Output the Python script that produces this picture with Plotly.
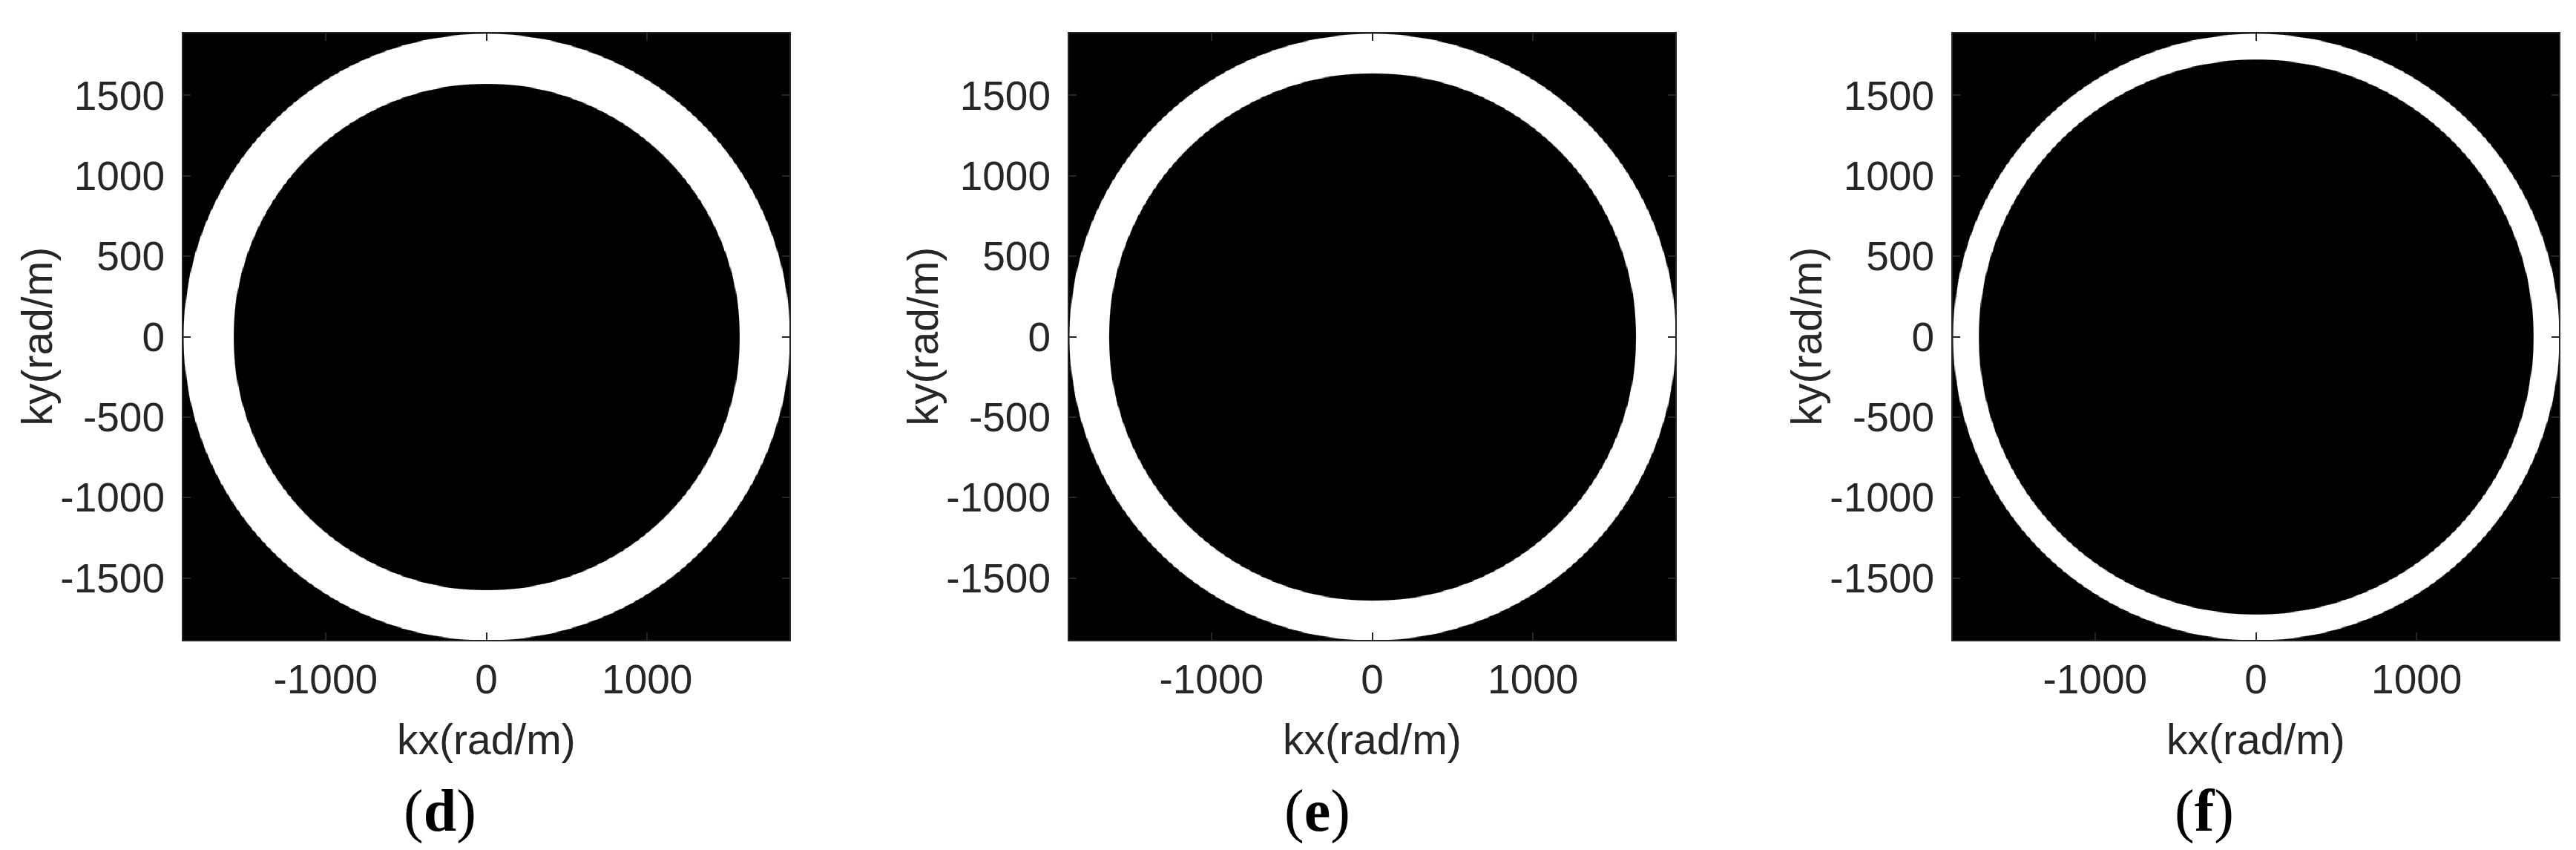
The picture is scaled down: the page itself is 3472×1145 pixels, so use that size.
import numpy as np
import plotly.graph_objects as go

# ---------------- data ----------------
K_MAX = 1885                      # axis half-extent (rad/m)
panel_labels = ["d", "e", "f"]
outer_radius = [1885, 1885, 1885] # outer edge of bright ring (rad/m)
inner_radius = [1575, 1640, 1725] # inner edge of bright ring (rad/m)
x_tick_vals = [-1000, 0, 1000]
x_tick_text = ["-1000", "0", "1000"]
y_tick_vals = [-1500, -1000, -500, 0, 500, 1000, 1500]
y_tick_text = ["-1500", "-1000", "-500", "0", "500", "1000", "1500"]
x_title = "kx(rad/m)"
y_title = "ky(rad/m)"

# ---------------- layout geometry (pixels) ----------------
W, H = 3472, 1145
panel_left = [239, 1433, 2624]
panel_size = 817
panel_top = 37
label_offset = [-63, -74, -70]

N = 701
kx = np.linspace(-K_MAX, K_MAX, N)
ky = np.linspace(-K_MAX, K_MAX, N)
KX, KY = np.meshgrid(kx, ky)
R = np.sqrt(KX ** 2 + KY ** 2)
soft = 6.0

fig = go.Figure()
axis_color = "#262626"
tick_font = dict(family="Liberation Sans, Arial, sans-serif", size=55, color=axis_color)

annotations = []
for i, lab in enumerate(panel_labels):
    ring = np.clip((R - inner_radius[i]) / soft + 0.5, 0, 1) * np.clip((outer_radius[i] - R) / soft + 0.5, 0, 1)
    xa = "x" if i == 0 else f"x{i+1}"
    ya = "y" if i == 0 else f"y{i+1}"
    fig.add_trace(go.Heatmap(
        x=kx, y=ky, z=ring.astype(np.float32),
        colorscale=[[0, "black"], [1, "white"]], zmin=0, zmax=1,
        showscale=False, zsmooth="best", xaxis=xa, yaxis=ya, hoverinfo="skip"))

    x0 = panel_left[i] / W
    x1 = (panel_left[i] + panel_size) / W
    y1 = 1 - panel_top / H
    y0 = 1 - (panel_top + panel_size) / H
    common = dict(showline=True, linecolor=axis_color, linewidth=2, mirror="allticks",
                  ticks="inside", ticklen=10, tickwidth=2, tickcolor=axis_color,
                  showgrid=False, zeroline=False, tickfont=tick_font,
                  range=[-K_MAX, K_MAX], layer="above traces")
    xkey = "xaxis" if i == 0 else f"xaxis{i+1}"
    ykey = "yaxis" if i == 0 else f"yaxis{i+1}"
    fig.layout[xkey] = dict(common, domain=[x0, x1], anchor=ya, tickvals=x_tick_vals,
                            ticktext=x_tick_text, ticklabelstandoff=4)
    fig.layout[ykey] = dict(common, domain=[y0, y1], anchor=xa, tickvals=y_tick_vals,
                            ticktext=y_tick_text, ticklabelstandoff=12)

    cx = (panel_left[i] + panel_size / 2)
    annotations.append(dict(text=x_title, x=cx / W, y=1 - 988 / H, xref="paper", yref="paper",
                            xanchor="center", yanchor="middle", showarrow=False,
                            font=dict(family="Liberation Sans, Arial, sans-serif", size=57, color=axis_color)))
    annotations.append(dict(text=y_title, x=(panel_left[i] - 197) / W, y=1 - (panel_top + panel_size / 2) / H,
                            xref="paper", yref="paper", textangle=-90,
                            xanchor="center", yanchor="middle", showarrow=False,
                            font=dict(family="Liberation Sans, Arial, sans-serif", size=57, color=axis_color)))
    annotations.append(dict(text=f"(<b>{lab}</b>)", x=(cx + label_offset[i]) / W, y=1 - 1084 / H,
                            xref="paper", yref="paper", xanchor="center", yanchor="middle",
                            showarrow=False,
                            font=dict(family="Liberation Serif, Times New Roman, serif", size=80, color="black")))

fig.update_layout(width=W, height=H, margin=dict(l=0, r=0, t=0, b=0),
                  paper_bgcolor="white", plot_bgcolor="black",
                  annotations=annotations, showlegend=False)

fig.write_html("out.html")
